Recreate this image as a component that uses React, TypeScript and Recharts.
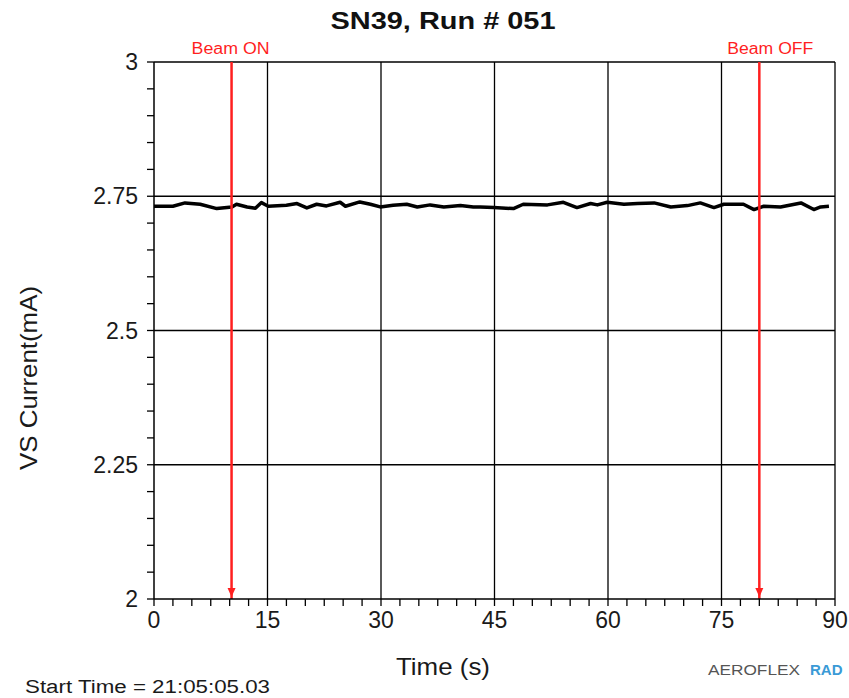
import React from 'react';
import { ComposedChart, Line, XAxis, YAxis, ReferenceLine } from 'recharts';

const timeS = [0, 2.5, 4.1, 6.1, 8.3, 10.3, 10.9, 12.3, 13.4, 14.2, 15.1, 17.5, 18.9, 20.2, 21.5, 22.8, 24.6, 25.3, 27.2, 28.6, 29.9, 31.6, 33.4, 34.8, 36.5, 38.3, 40.5, 42.2, 43.1, 44.9, 47.5, 48.8, 52, 54.1, 55.9, 57.7, 58.6, 59.9, 62.1, 63.9, 66.1, 68.3, 70.5, 72.2, 74, 75.3, 77.9, 79.3, 80.6, 82.8, 85.5, 87.2, 88.1, 89.2];
const vsCurrent = [2.7314, 2.7314, 2.7376, 2.7351, 2.727, 2.7301, 2.7351, 2.7301, 2.7277, 2.7382, 2.7314, 2.7332, 2.7364, 2.7283, 2.7351, 2.732, 2.7388, 2.7314, 2.7394, 2.7351, 2.7301, 2.7332, 2.7351, 2.7301, 2.7339, 2.7301, 2.7326, 2.7301, 2.7301, 2.7289, 2.727, 2.7351, 2.7339, 2.7388, 2.7289, 2.7364, 2.7339, 2.7388, 2.7351, 2.7364, 2.7376, 2.7301, 2.7326, 2.7376, 2.7289, 2.7351, 2.7351, 2.7252, 2.7314, 2.7301, 2.7376, 2.7252, 2.7301, 2.7314];

const xTicks = Array.from({ length: 37 }, (_, i) => i * 2.5);
const xMajor = [0, 15, 30, 45, 60, 75, 90];
const xGrid = [15, 30, 45, 60, 75, 90];
const yTicks = Array.from({ length: 21 }, (_, i) => Math.round((2 + i * 0.05) * 100) / 100);
const yMajor = [2, 2.25, 2.5, 2.75, 3];
const yGrid = [2.25, 2.5, 2.75, 3];
const beamTimes = [10.25, 80];
const beamLabels = ['Beam ON', 'Beam OFF'];

const beamLabelStyle = [
  { dx: -1, width: 78 },
  { dx: 11, width: 86 },
];

const data = timeS.map((t, i) => ({ t, v: vsCurrent[i] }));

const FONT = '"Liberation Sans", Arial, sans-serif';
const RED = '#ff1f1f';

const XTick = (props: any) => {
  const { x, y, payload } = props;
  const v = payload.value;
  if (!xMajor.some((m) => Math.abs(m - v) < 1e-6)) return <g />;
  return (
    <text x={x} y={y + 18} textAnchor="middle" fontSize={23} fontFamily={FONT} fill="#1a1a1a">
      {String(v)}
    </text>
  );
};

const YTick = (props: any) => {
  const { x, y, payload } = props;
  const v = payload.value;
  if (!yMajor.some((m) => Math.abs(m - v) < 1e-6)) return <g />;
  return (
    <text x={x} y={y + 8} textAnchor="end" fontSize={23} fontFamily={FONT} fill="#1a1a1a">
      {String(v)}
    </text>
  );
};

const beamLabel = (text: string, dx: number, w: number) => (props: any) => {
  const vb = props.viewBox || {};
  const x = vb.x;
  const y = vb.y;
  const h = vb.height;
  const b = y + h;
  return (
    <g>
      <text
        x={x + dx}
        y={y - 8}
        textAnchor="middle"
        fontSize={16}
        fontFamily={FONT}
        fill={RED}
        textLength={w}
        lengthAdjust="spacingAndGlyphs"
      >
        {text}
      </text>
      <polygon points={`${x - 4},${b - 11} ${x + 4},${b - 11} ${x},${b - 2}`} fill={RED} />
    </g>
  );
};

export default function App() {
  return (
    <div style={{ position: 'absolute', left: 0, top: 0, width: 849, height: 698, background: '#fff' }}>
      <ComposedChart
        width={849}
        height={698}
        data={data}
        margin={{ top: 62, right: 14, bottom: 59, left: 0 }}
      >
        {xGrid.map((g) => (
          <ReferenceLine key={'xg' + g} x={g} stroke="#000" strokeWidth={1.3} />
        ))}
        {yGrid.map((g) => (
          <ReferenceLine key={'yg' + g} y={g} stroke="#000" strokeWidth={1.3} />
        ))}
        <XAxis
          dataKey="t"
          type="number"
          domain={[0, 90]}
          ticks={xTicks}
          interval={0}
          height={40}
          tickSize={7}
          tickMargin={4}
          axisLine={{ stroke: '#000', strokeWidth: 1.5 }}
          tickLine={{ stroke: '#000', strokeWidth: 1.3 }}
          tick={<XTick />}
        />
        <YAxis
          type="number"
          domain={[2, 3]}
          ticks={yTicks}
          interval={0}
          width={154}
          tickSize={7}
          tickMargin={9}
          axisLine={{ stroke: '#000', strokeWidth: 1.5 }}
          tickLine={{ stroke: '#000', strokeWidth: 1.3 }}
          tick={<YTick />}
        />
        <Line
          dataKey="v"
          type="linear"
          stroke="#000"
          strokeWidth={3.5}
          strokeLinejoin="round"
          dot={false}
          isAnimationActive={false}
        />
        {beamTimes.map((t, i) => (
          <ReferenceLine
            key={'beam' + t}
            x={t}
            stroke={RED}
            strokeWidth={2.5}
            label={beamLabel(beamLabels[i], beamLabelStyle[i].dx, beamLabelStyle[i].width)}
          />
        ))}
      </ComposedChart>
      <svg
        width={849}
        height={698}
        style={{ position: 'absolute', left: 0, top: 0, pointerEvents: 'none' }}
      >
        <text
          x={443}
          y={29}
          textAnchor="middle"
          fontSize={24}
          fontWeight="bold"
          fontFamily={FONT}
          fill="#111"
          textLength={225}
          lengthAdjust="spacingAndGlyphs"
        >
          SN39, Run # 051
        </text>
        <text
          transform="translate(37,378) rotate(-90)"
          textAnchor="middle"
          fontSize={24}
          fontFamily={FONT}
          fill="#1a1a1a"
          textLength={184}
          lengthAdjust="spacingAndGlyphs"
        >
          VS Current(mA)
        </text>
        <text
          x={443}
          y={675}
          textAnchor="middle"
          fontSize={24}
          fontFamily={FONT}
          fill="#1a1a1a"
          textLength={94}
          lengthAdjust="spacingAndGlyphs"
        >
          Time (s)
        </text>
        <text
          x={25}
          y={693}
          fontSize={18}
          fontFamily={FONT}
          fill="#1a1a1a"
          textLength={245}
          lengthAdjust="spacingAndGlyphs"
        >
          Start Time = 21:05:05.03
        </text>
        <text x={708} y={675} fontSize={15} fontFamily={FONT} fill="#555" textLength={92} lengthAdjust="spacingAndGlyphs">
          AEROFLEX
        </text>
        <text x={810} y={675} fontSize={15} fontWeight="bold" fontFamily={FONT} fill="#3a9ad6">
          RAD
        </text>
      </svg>
    </div>
  );
}
